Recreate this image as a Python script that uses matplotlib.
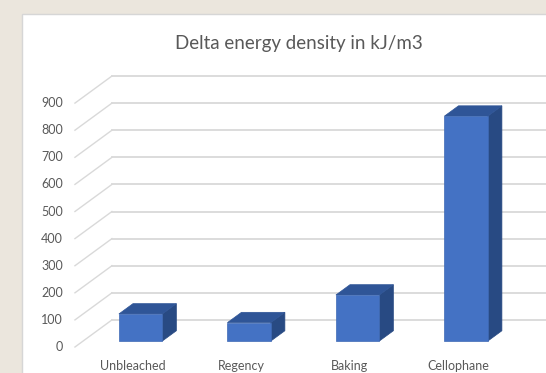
import matplotlib
matplotlib.use("Agg")
import matplotlib.pyplot as plt
from matplotlib.patches import Polygon, Rectangle

# Chart data
categories = ["Unbleached", "Regency", "Baking", "Cellophane"]
values = [100, 68, 170, 830]
ticks = [0, 100, 200, 300, 400, 500, 600, 700, 800, 900]
title = "Delta energy density in kJ/m3"

# Oblique 3D look (Excel style): depth shifts right and up
DEPTH_X = 0.341     # category units per unit of depth
DEPTH_Y = 100       # value units per unit of depth
BAR_W = 0.40
BAR_D0, BAR_D1 = 0.22, 0.60
WALL_X = -0.53      # left wall at the front

FRONT = "#4472c4"
TOP = "#2f5597"
SIDE = "#284a83"
GRID = "#d9d9d9"
TEXT = "#595959"

plt.rcParams["font.family"] = ["Lato", "DejaVu Sans"]

fig = plt.figure(figsize=(5.46, 3.73), dpi=100, facecolor="#ebe6dd")
W, H = 546, 373
left, top = 22, 14
ax = fig.add_axes([left / W, 0, 1 - left / W, 1 - top / H])
ax.set_xlim(-1.018, 3.811)
ax.set_ylim(-95.9, 1228.8)
ax.axis("off")
# white chart area, running off the right and bottom edges
ax.add_patch(Rectangle((0, -0.1), 1.1, 1.1, transform=ax.transAxes, facecolor="white",
                       edgecolor="#d6d6d6", linewidth=1.0, zorder=0, clip_on=False))

# gridlines: side wall diagonals + back wall horizontals
for t in ticks:
    ax.plot([WALL_X, WALL_X + DEPTH_X], [t, t + DEPTH_Y], color=GRID, lw=1.0, zorder=1)
    ax.plot([WALL_X + DEPTH_X, 4.0], [t + DEPTH_Y, t + DEPTH_Y], color=GRID, lw=1.3, zorder=1)
    ax.text(WALL_X - 0.11, t, str(t), ha="right", va="center", fontsize=9, color=TEXT)

# bars
for i, (name, v) in enumerate(zip(categories, values)):
    x0 = i - BAR_W / 2
    x1 = i + BAR_W / 2
    fx, fy = BAR_D0 * DEPTH_X, BAR_D0 * DEPTH_Y
    bx, by = BAR_D1 * DEPTH_X, BAR_D1 * DEPTH_Y
    side = [(x1 + fx, fy), (x1 + bx, by), (x1 + bx, v + by), (x1 + fx, v + fy)]
    topf = [(x0 + fx, v + fy), (x1 + fx, v + fy), (x1 + bx, v + by), (x0 + bx, v + by)]
    front = [(x0 + fx, fy), (x1 + fx, fy), (x1 + fx, v + fy), (x0 + fx, v + fy)]
    ax.add_patch(Polygon(side, closed=True, facecolor=SIDE, edgecolor=SIDE, lw=0.5, zorder=3))
    ax.add_patch(Polygon(topf, closed=True, facecolor=TOP, edgecolor=TOP, lw=0.5, zorder=3))
    ax.add_patch(Polygon(front, closed=True, facecolor=FRONT, edgecolor="#3f6ab5", lw=0.5, zorder=4))
    ax.text(i, -70, name, ha="center", va="center", fontsize=9, color=TEXT)

fig.text(0.548, 1 - 43 / H, title, ha="center", va="center", fontsize=13.5, color=TEXT)

fig.savefig("out.png", dpi=100, facecolor=fig.get_facecolor())
